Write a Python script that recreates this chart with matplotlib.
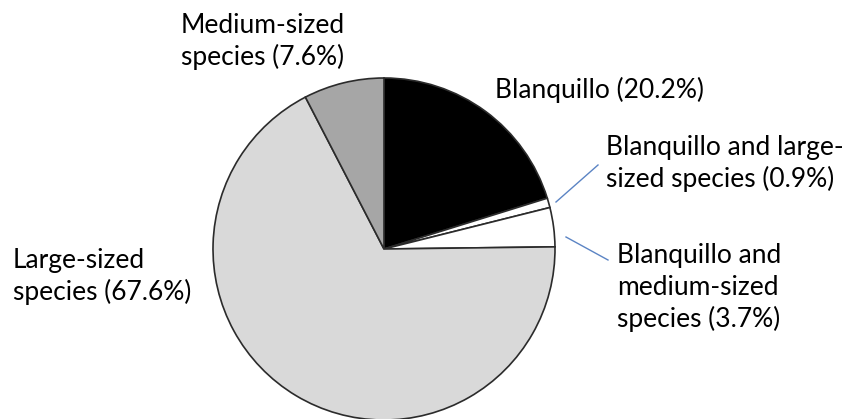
import matplotlib
matplotlib.use("Agg")
import matplotlib.pyplot as plt

# Catch composition by species group (percent of sets)
categories = [
    "Blanquillo",
    "Blanquillo and large-sized species",
    "Blanquillo and medium-sized species",
    "Large-sized species",
    "Medium-sized species",
]
shares = [20.2, 0.9, 3.7, 67.6, 7.6]
colors = ["#000000", "#ffffff", "#ffffff", "#d9d9d9", "#a6a6a6"]

# Label lines for each slice (wrapped as in the figure)
label_lines = [
    ["Blanquillo (20.2%)"],
    ["Blanquillo and large-", "sized species (0.9%)"],
    ["Blanquillo and", "medium-sized", "species (3.7%)"],
    ["Large-sized", "species (67.6%)"],
    ["Medium-sized", "species (7.6%)"],
]

W, H = 851, 419
fig = plt.figure(figsize=(W / 100, H / 100), dpi=100)
ax = fig.add_axes([0, 0, 1, 1])

cx, cy, r = 384, H - 249, 171
ax.pie(
    shares,
    colors=colors,
    startangle=90,
    counterclock=False,
    center=(cx, cy),
    radius=r,
    frame=True,
    wedgeprops=dict(edgecolor="#2b2b2b", linewidth=1.2),
)
ax.set_xlim(0, W)
ax.set_ylim(0, H)
ax.set_aspect("equal")
ax.axis("off")

font = dict(family=["Lato", "DejaVu Sans"], fontsize=19, color="#000000")
line_gap = 32

# (left x, first baseline y) in pixel coordinates from the top-left corner
anchors = [
    (495, 98),
    (606, 155),
    (617, 263),
    (13, 268),
    (181, 33),
]
for lines, (x, y0) in zip(label_lines, anchors):
    for i, line in enumerate(lines):
        ax.text(x, H - (y0 + i * line_gap), line, ha="left", va="baseline", **font)

# Leader lines for the two thin slices
leader = "#5b84c4"
ax.plot([556, 598], [H - 202, H - 165], color=leader, lw=1.0)
ax.plot([566, 608], [H - 237, H - 260], color=leader, lw=1.0)

fig.savefig("out.png", dpi=100, facecolor="white")
